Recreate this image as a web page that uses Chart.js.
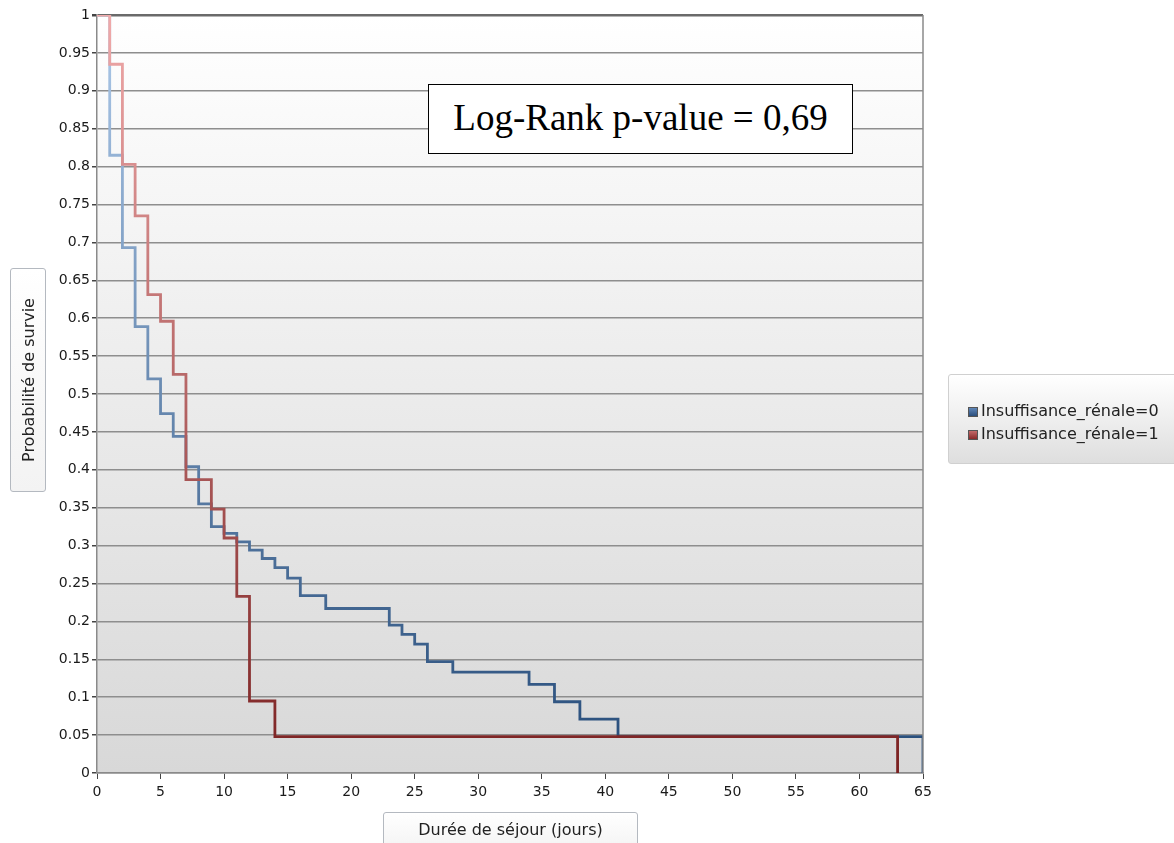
<!DOCTYPE html>
<html lang="fr">
<head>
  <meta charset="UTF-8" />
  <title>Courbes de survie</title>
  <script src="https://cdn.jsdelivr.net/npm/chart.js"></script>
  <style>
    body { margin: 0; background: #fff; font-family: "DejaVu Sans", Verdana, sans-serif; }
    #wrap { position: relative; width: 1174px; height: 843px; overflow: hidden; }
    #survChart { position: absolute; left: 0; top: 0; }
    .box {
      position: absolute;
      border: 1px solid #b4b9c0;
      border-radius: 3px;
      background: linear-gradient(#ffffff, #f3f3f3);
      color: #222;
      font-size: 16px;
      box-sizing: border-box;
    }
    /* titre axe y, tourné */
    #yTitle { left: 10px; top: 268px; width: 36px; height: 224px; }
    #yTitle span {
      position: absolute; left: 50%; top: 50%;
      transform: translate(-50%, -50%) rotate(-90deg);
      white-space: nowrap;
    }
    #xTitle { left: 383px; top: 812px; width: 255px; height: 40px; text-align: center; padding-top: 7px; }
    #legendBox {
      left: 948px; top: 374px; width: 240px; height: 90px;
      background: linear-gradient(#ffffff, #dedede);
      border-color: #d0d0d0;
      padding: 24px 0 0 19px;
    }
    .legItem { height: 23px; line-height: 23px; white-space: nowrap; }
    .legItem i { display: inline-block; width: 10px; height: 10px; margin-right: 3px; vertical-align: -1px; border: 1px solid #555; box-sizing: border-box; }
    #pvalue {
      position: absolute; left: 428px; top: 84px; width: 425px; height: 70px;
      border: 1.5px solid #000; background: #fff; box-sizing: border-box;
      font-family: "Liberation Serif", "Times New Roman", serif; font-size: 37px;
      text-align: center; line-height: 66px; color: #000;
    }
  </style>
</head>
<body>
<div id="wrap">
  <canvas id="survChart" width="1174" height="843"></canvas>
  <div class="box" id="yTitle"><span>Probabilité de survie</span></div>
  <div class="box" id="xTitle">Durée de séjour (jours)</div>
  <div class="box" id="legendBox"></div>
  <div id="pvalue">Log-Rank p-value = 0,69</div>
</div>

<script>
  // Kaplan-Meier : temps (jours) et survie après chaque événement
  const seriesNames = ['Insuffisance_rénale=0', 'Insuffisance_rénale=1'];

  const timesGroup0 = [0, 1, 2, 3, 4, 5, 6, 7, 8, 9, 10, 11, 12, 13, 14, 15, 16, 18, 23, 24, 25, 26, 28, 34, 36, 38, 41, 65];
  const survGroup0  = [1, 0.815, 0.693, 0.589, 0.520, 0.474, 0.444, 0.404, 0.355, 0.325, 0.316, 0.305, 0.294, 0.283, 0.271, 0.257, 0.234, 0.217, 0.195, 0.183, 0.170, 0.147, 0.133, 0.117, 0.094, 0.071, 0.048, 0];

  const timesGroup1 = [0, 1, 2, 3, 4, 5, 6, 7, 9, 10, 11, 12, 14, 63];
  const survGroup1  = [1, 0.935, 0.803, 0.735, 0.631, 0.596, 0.526, 0.387, 0.348, 0.310, 0.233, 0.095, 0.048, 0];

  const xTicks = [0, 5, 10, 15, 20, 25, 30, 35, 40, 45, 50, 55, 60, 65];

  function toPoints(times, vals) {
    return times.map((t, i) => ({ x: t, y: vals[i] }));
  }

  // dégradé vertical sur la zone du graphique
  function vGradient(chart, top, bottom) {
    const area = chart.chartArea;
    if (!area) return bottom;
    const g = chart.ctx.createLinearGradient(0, area.top, 0, area.bottom);
    g.addColorStop(0, top);
    g.addColorStop(1, bottom);
    return g;
  }

  const plotBg = {
    id: 'plotBg',
    beforeDraw(chart) {
      const { ctx, chartArea: a } = chart;
      ctx.save();
      ctx.fillStyle = vGradient(chart, '#ffffff', '#d8d8d8');
      ctx.fillRect(a.left, a.top, a.right - a.left, a.bottom - a.top);
      ctx.restore();
    },
    afterDatasetsDraw(chart) {
      const { ctx, chartArea: a } = chart;
      ctx.save();
      ctx.strokeStyle = '#8a8a8a';
      ctx.lineWidth = 1.5;
      ctx.beginPath();
      ctx.moveTo(a.right, a.top);
      ctx.lineTo(a.right, a.bottom);
      ctx.stroke();
      ctx.restore();
    }
  };

  const ctx = document.getElementById('survChart').getContext('2d');
  const survChart = new Chart(ctx, {
    type: 'line',
    data: {
      datasets: [{
        label: seriesNames[0],
        data: toPoints(timesGroup0, survGroup0),
        stepped: true,
        borderColor: (c) => vGradient(c.chart, '#aecaea', '#244a78'),
        borderWidth: 2.8,
        pointRadius: 0,
        fill: false,
        order: 1
      }, {
        label: seriesNames[1],
        data: toPoints(timesGroup1, survGroup1),
        stepped: true,
        borderColor: (c) => vGradient(c.chart, '#f0aaaa', '#7a2020'),
        borderWidth: 2.8,
        pointRadius: 0,
        fill: false,
        order: 0
      }]
    },
    options: {
      responsive: false,
      animation: false,
      layout: { padding: { top: 15, right: 251, left: 0, bottom: 0 } },
      plugins: { legend: { display: false }, tooltip: { enabled: false } },
      scales: {
        x: {
          type: 'linear',
          min: 0, max: 65,
          afterBuildTicks: (s) => { s.ticks = xTicks.map(v => ({ value: v })); },
          afterFit: (s) => { s.height = 70; },
          border: { color: '#8a8a8a', width: 1.5 },
          grid: { drawOnChartArea: false, drawTicks: true, tickLength: 6, tickColor: '#444' },
          ticks: { color: '#1a1a1a', font: { family: 'DejaVu Sans', size: 14 }, padding: 5, maxRotation: 0 }
        },
        y: {
          min: 0, max: 1,
          afterFit: (s) => { s.width = 97; },
          border: { color: '#8a8a8a', width: 1.5 },
          grid: {
            color: (c) => c.tick && c.tick.value === 1 ? '#6a6a6a' : '#8e8e8e',
            lineWidth: (c) => c.tick && c.tick.value === 1 ? 2.5 : 1.5,
            tickLength: 5, tickColor: '#444'
          },
          ticks: {
            stepSize: 0.05,
            color: '#1a1a1a',
            font: { family: 'DejaVu Sans', size: 14 },
            padding: 2,
            callback: (v) => String(Math.round(v * 100) / 100)
          }
        }
      }
    },
    plugins: [plotBg]
  });

  // légende HTML
  const legColors = ['linear-gradient(#5f86b8, #2c4f7c)', 'linear-gradient(#c46a6a, #8a2a2a)'];
  const legendBox = document.getElementById('legendBox');
  seriesNames.forEach((name, i) => {
    const row = document.createElement('div');
    row.className = 'legItem';
    row.innerHTML = '<i style="background:' + legColors[i] + '"></i>' + name;
    legendBox.appendChild(row);
  });
</script>
</body>
</html>
